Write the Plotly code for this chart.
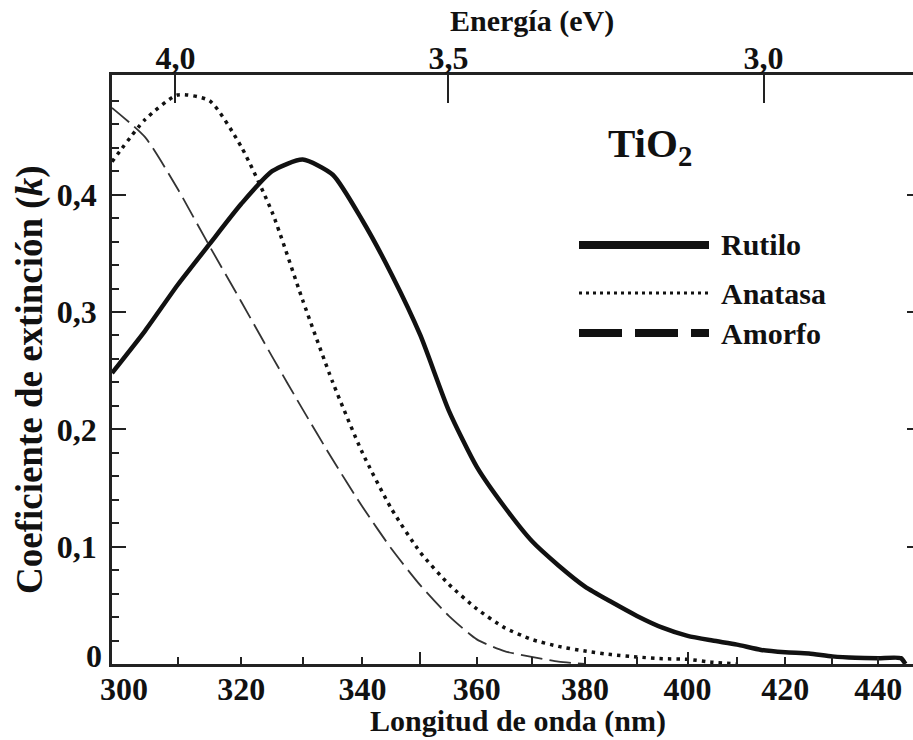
import math
import plotly.graph_objects as go

# Wavelength grid (nm) and extinction coefficient k for each TiO2 phase
wavelength = [300, 305, 310, 315, 320, 325, 330, 335, 340, 345, 350, 355, 360, 365,
              370, 375, 380, 385, 390, 395, 400, 405, 410, 415, 420, 425, 430, 435,
              440, 445, 446]
rutilo = [0.248, 0.284, 0.323, 0.358, 0.392, 0.420, 0.430, 0.417, 0.378, 0.332,
          0.280, 0.216, 0.168, 0.134, 0.105, 0.084, 0.066, 0.053, 0.041, 0.031,
          0.024, 0.020, 0.0165, 0.012, 0.010, 0.009, 0.0065, 0.0053, 0.005, 0.005, 0.0]

wl_anatasa = [300, 305, 310, 315, 320, 325, 330, 335, 340, 345, 350, 355, 360, 365,
              370, 375, 380, 385, 390, 395, 400, 405, 410]
anatasa = [0.428, 0.464, 0.485, 0.480, 0.441, 0.385, 0.310, 0.240, 0.180, 0.132,
           0.095, 0.068, 0.047, 0.031, 0.021, 0.015, 0.011, 0.008, 0.006, 0.0045,
           0.004, 0.0015, 0.0]

wl_amorfo = [300, 305, 310, 315, 320, 325, 330, 335, 340, 345, 350, 355, 360, 365,
             370, 375, 380]
amorfo = [0.474, 0.449, 0.405, 0.356, 0.309, 0.262, 0.217, 0.174, 0.134, 0.098,
          0.067, 0.041, 0.021, 0.011, 0.006, 0.002, 0.0]

# Axis ticks
wl_minor_ticks = list(range(300, 441, 10))
wl_label_ticks = list(range(300, 441, 20))
wl_long_ticks = [350, 400]
energy_ticks = [4.0, 3.5, 3.0]
energy_labels = ["4,0", "3,5", "3,0"]
k_ticks = [0, 0.1, 0.2, 0.3, 0.4]
k_labels = ["0", "0,1", "0,2", "0,3", "0,4"]
k_minor = [round(0.02 * i, 2) for i in range(26) if i % 5 != 0]

series_names = ["Rutilo", "Anatasa", "Amorfo"]

# Geometry of the plotting area (pixels)
W, H = 913, 740
L, T, B = 112, 75, 76
PW, PH = W - L, H - T - B

def px(x):
    return (x - L) / PW

def py(y):
    return (H - B - y) / PH

INK = "#111111"
AX = "#222222"
SERIF = "Liberation Serif"

wl_range = [math.log10(300), math.log10(447.7)]
e_range = [math.log10(4.126), math.log10(2.7885)]

def wl_text(v):
    if v == 300:
        return "\u00a0\u00a0\u00a0300"
    return str(v) if v in wl_label_ticks else ""

fig = go.Figure()
fig.add_trace(go.Scatter(x=wavelength, y=rutilo, mode="lines", name=series_names[0],
                         line=dict(color=INK, width=4.5, shape="spline", smoothing=0.6)))
fig.add_trace(go.Scatter(x=wl_anatasa, y=anatasa, mode="lines", name=series_names[1],
                         line=dict(color=INK, width=3.5, dash="3.5px,5px",
                                   shape="spline", smoothing=0.6)))
fig.add_trace(go.Scatter(x=wl_amorfo, y=amorfo, mode="lines", name=series_names[2],
                         line=dict(color="#333333", width=1.8, dash="22px,7px",
                                   shape="spline", smoothing=0.6)))
# empty traces so the auxiliary axes are rendered
fig.add_trace(go.Scatter(x=[None], y=[None], xaxis="x2", yaxis="y", hoverinfo="skip"))
fig.add_trace(go.Scatter(x=[None], y=[None], xaxis="x3", yaxis="y", hoverinfo="skip"))
fig.add_trace(go.Scatter(x=[None], y=[None], xaxis="x", yaxis="y2", hoverinfo="skip"))

tickfont = dict(family=SERIF, size=32, color=INK, weight="bold")

fig.update_layout(
    width=W, height=H,
    margin=dict(l=L, r=0, t=T, b=B, pad=0),
    paper_bgcolor="white", plot_bgcolor="white",
    showlegend=False,
    xaxis=dict(type="log", range=wl_range, anchor="y",
               tickmode="array", tickvals=wl_minor_ticks,
               ticktext=[wl_text(v) for v in wl_minor_ticks],
               ticks="inside", ticklen=7, tickwidth=2, tickcolor=AX,
               showline=True, linecolor=AX, linewidth=2.5,
               showgrid=False, zeroline=False, tickfont=tickfont,
               ticklabelstandoff=-5),
    xaxis3=dict(type="log", range=wl_range, anchor="y", overlaying="x", side="bottom",
                tickmode="array", tickvals=wl_long_ticks, ticks="inside", ticklen=12,
                tickwidth=2, tickcolor=AX, showticklabels=False, showline=False,
                showgrid=False, zeroline=False),
    xaxis2=dict(type="log", range=e_range, anchor="y", overlaying="x", side="top",
                tickmode="array", tickvals=energy_ticks, ticktext=energy_labels,
                ticks="inside", ticklen=28, tickwidth=2, tickcolor=AX,
                showline=True, linecolor=AX, linewidth=2.5,
                showgrid=False, zeroline=False, tickfont=tickfont,
                ticklabelstandoff=-10),
    yaxis=dict(range=[0, 0.502], anchor="x",
               tickmode="array", tickvals=k_ticks,
               ticktext=[""] + k_labels[1:],
               ticks="inside", ticklen=14, tickwidth=2, tickcolor=AX,
               minor=dict(tickmode="array", tickvals=k_minor, ticks="inside",
                          ticklen=7, tickwidth=2, tickcolor=AX),
               showline=True, linecolor=AX, linewidth=2.5,
               showgrid=False, zeroline=False, tickfont=tickfont, ticklabelstandoff=6),
    yaxis2=dict(range=[0, 0.502], anchor="x", overlaying="y", side="right",
                tickmode="array", tickvals=k_ticks[1:], ticks="inside", ticklen=6,
                tickwidth=2, tickcolor=AX, showticklabels=False, showline=False,
                showgrid=False, zeroline=False),
)

title_font = dict(family=SERIF, size=30, color=INK, weight="bold")
annotations = [
    dict(text="Longitud de onda (nm)", x=px(518), y=py(721), font=title_font),
    dict(text="Energía (eV)", x=px(532), y=py(21), font=title_font),
    dict(text="Coeficiente de extinción (<i>k</i>)", x=px(30), y=py(380),
         textangle=-90, font=dict(family=SERIF, size=37, color=INK, weight="bold")),
    dict(text="TiO<sub>2</sub>", x=px(650), y=py(146),
         font=dict(family=SERIF, size=41, color=INK, weight="bold")),
    # zero label of the k axis sits slightly above the corner
    dict(text=k_labels[0], x=px(104), y=py(656), xanchor="right", font=tickfont),
]
legend_rows = [245, 293, 333]
for name, yy in zip(series_names, legend_rows):
    annotations.append(dict(text=name, x=px(719), y=py(yy), xanchor="left",
                            font=dict(family=SERIF, size=30, color=INK, weight="bold")))
for a in annotations:
    a.setdefault("xanchor", "center")
    a.update(xref="paper", yref="paper", yanchor="middle", showarrow=False)
fig.update_layout(annotations=annotations)

legend_styles = [dict(width=8, dash="solid"),
                 dict(width=3, dash="3px,4px"),
                 dict(width=8, dash="43px,13px")]
shapes = []
for style, yy in zip(legend_styles, legend_rows):
    shapes.append(dict(type="line", xref="paper", yref="paper",
                       x0=px(579), x1=px(709), y0=py(yy), y1=py(yy),
                       line=dict(color=INK, **style)))
fig.update_layout(shapes=shapes)

fig.write_html("out.html")
